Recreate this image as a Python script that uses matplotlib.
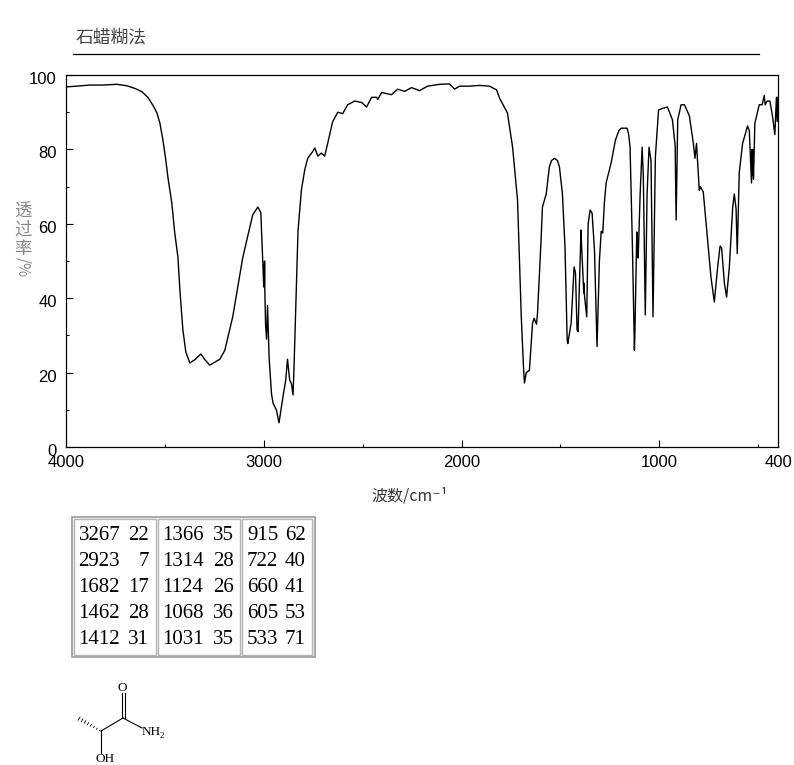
import matplotlib
matplotlib.use("Agg")
import matplotlib.pyplot as plt
from matplotlib.patches import Rectangle
from matplotlib.transforms import ScaledTranslation
import numpy as np

plt.rcParams['font.family'] = ['Noto Sans CJK SC', 'DejaVu Sans']

wavenumber = [4000, 3946, 3879, 3813, 3742, 3692, 3652, 3616, 3586, 3561, 3540, 3525, 3510, 3495, 3485, 3465,
              3450, 3434, 3424, 3409, 3394, 3374, 3348,
              3318, 3298, 3273, 3222, 3197, 3157, 3106, 3056, 3030, 3015, 3005, 3000, 2998, 2997, 2996, 2995,
              2991, 2986, 2981, 2978, 2973, 2961, 2953, 2936, 2923, 2903, 2889, 2880, 2869, 2860, 2852, 2847,
              2835, 2827, 2810, 2793, 2778, 2753, 2742, 2727, 2709, 2692, 2677, 2652, 2626, 2601, 2576, 2540,
              2505, 2480, 2455, 2429, 2424, 2404, 2354, 2323, 2288, 2253, 2212, 2172, 2111, 2061, 2035, 2010,
              1960, 1909, 1859, 1823, 1808, 1768, 1742, 1717, 1698, 1687, 1682, 1673, 1657, 1641, 1633, 1621,
              1616, 1598, 1591, 1572, 1556, 1545, 1530, 1515, 1505, 1490, 1477, 1466, 1463, 1446, 1431, 1424,
              1416, 1411, 1396, 1393, 1382, 1380, 1379, 1367, 1360, 1350, 1340, 1328, 1315, 1303, 1294, 1286,
              1278, 1269, 1244, 1222, 1205, 1193, 1163, 1155, 1148, 1136, 1126, 1123, 1114, 1112, 1107, 1097,
              1087, 1081, 1071, 1062, 1052, 1042, 1032, 1020, 1004, 985, 959, 934, 920, 915, 907, 890, 873,
              848, 828, 820, 812, 798, 793, 778, 758, 739, 722, 705, 693, 685, 671, 660, 646, 629, 621, 612,
              606, 596, 579, 554, 545, 534, 532, 529, 527, 524, 517, 495, 480, 470, 465, 455, 441, 428, 416,
              408, 404, 400]
transmittance = [96.8, 97, 97.3, 97.3, 97.5, 97.1, 96.4, 95.5, 94, 91.9, 89.8, 87, 82.5, 77, 72.6, 65.6,
                 57.5, 51, 42, 31.5, 25.5, 22.6, 23.5,
                 25, 23.5, 22, 23.6, 26, 35, 51, 62.4, 64.5, 63, 50, 43, 49, 44, 50, 43,
                 33, 29, 38, 33, 24, 14.3, 11.8, 9.9, 6.5, 13.5, 18, 23.6, 18, 17, 14, 21.6,
                 44, 58, 69, 74.5, 77.6, 79.4, 80.4, 78.2, 79, 78.2, 81.6, 87.4, 90, 89.6, 92, 93,
                 92.6, 91.4, 94, 94, 93.4, 95.3, 94.7, 96.2, 95.6, 96.6, 95.8, 97, 97.5, 97.6, 96.2, 97,
                 97, 97.2, 97, 96, 93.8, 89.8, 80.6, 66.4, 35, 21.6, 17.2, 20, 20.6, 33.3, 34.6, 33,
                 35.9, 55.6, 64.5, 68, 75.3, 77, 77.6, 77, 75.3, 68, 53.8, 28.8, 27.8, 33.3, 48.4, 46.8,
                 31.5, 31, 58.3, 54, 41.4, 44, 41, 35, 60, 63.7, 62.9, 53, 27, 50, 58, 57.5,
                 65.6, 71, 76.3, 82.5, 85, 85.7, 85.7, 84, 80.6, 53.8, 26, 32, 57.8, 52, 50.8, 68,
                 80.6, 73, 35.5, 68, 80.6, 77, 35, 78, 90.6, 91, 91.4, 88, 81, 61, 88, 92, 92,
                 89, 81.6, 77.6, 81.6, 69, 70, 68.6, 57, 45.7, 39, 48.4, 54, 53.5, 44, 40.3, 48.4, 64.5, 68, 64,
                 52, 73.7, 81.6, 86.3, 85, 71, 80, 73, 80, 72, 87, 92, 92, 94.5, 92, 93, 93, 89, 84,
                 94, 87.5, 94]

x_ticks = [4000, 3000, 2000, 1000, 400]
x_minor = [3500, 2500, 1500, 500]
y_ticks = [0, 20, 40, 60, 80, 100]
y_minor = [10, 30, 50, 70, 90]

peak_wn = [[3267, 2923, 1682, 1462, 1412], [1366, 1314, 1124, 1068, 1031], [915, 722, 660, 605, 533]]
peak_t = [[22, 7, 17, 28, 31], [35, 28, 26, 36, 35], [62, 40, 41, 53, 71]]

W, H = 794, 765
fig = plt.figure(figsize=(W / 100, H / 100), dpi=100)

# overlay in pixels for the page stuff (title rule, table, molecule)
page = fig.add_axes([0, 0, 1, 1])
page.set_xlim(0, W)
page.set_ylim(H, 0)
page.axis('off')

ax = fig.add_axes([66 / W, 1 - 447 / H, 712 / W, 372 / H])
ax.patch.set_alpha(0)
ax.plot(wavenumber, transmittance, color='black', lw=1.0)
ax.set_xlim(4000, 400)
ax.set_ylim(0, 100)
ax.set_xticks(x_ticks)
ax.set_xticks(x_minor, minor=True)
ax.set_yticks(y_ticks)
ax.set_yticks(y_minor, minor=True)
ax.tick_params(axis='both', which='major', direction='in', length=5, width=0.8, labelsize=12)
ax.tick_params(axis='both', which='minor', direction='in', length=2.5, width=0.8)
ax.tick_params(axis='x', pad=5.5)
ax.tick_params(axis='y', pad=6.5)
for lab in ax.get_xticklabels() + ax.get_yticklabels():
    lab.set_family('Liberation Sans')
# y labels sit a little below their ticks
nudge = ScaledTranslation(0, -3 / 100, fig.dpi_scale_trans)
for lab in ax.get_yticklabels():
    lab.set_transform(lab.get_transform() + nudge)
for s in ax.spines.values():
    s.set_linewidth(0.9)

# title and rule
page.text(76, 37, '石蜡糊法', fontsize=12.8, color='#444444', va='center', ha='left')
page.plot([73, 759], [54, 54], color='black', lw=0.9)

# axis labels
page.text(410, 496, '波数/cm⁻¹', fontsize=11.5, color='#333333', ha='center', va='center')
page.text(23, 230, '透\n过\n率', fontsize=12.5, color='#888888', ha='center', va='center', linespacing=1.05)
page.text(23, 267, '/%', fontsize=11, color='#888888', ha='center', va='center', rotation=270)

# peak table
page.add_patch(Rectangle((71.5, 516.5), 243, 140, fc='#f4f4f4', ec='#a8a8a8', lw=1.4))
col_x = [(73.5, 155.5), (157.5, 240), (242, 312)]
for (x0, x1), wns, ts in zip(col_x, peak_wn, peak_t):
    page.add_patch(Rectangle((x0, 518.5), x1 - x0, 136, fc='white', ec='#b4b4b4', lw=1.0))
    for r, (w, t) in enumerate(zip(wns, ts)):
        yy = 536 + r * 26
        page.text(x0 + 5, yy, str(w), family='Liberation Serif', fontsize=15, color='black', ha='left', va='center')
        page.text(x1 - 6.5, yy, str(t), family='Liberation Serif', fontsize=15, color='black', ha='right', va='center')

# molecule, hashed methyl bond first
c_me, c_star, c_co = np.array([78.0, 718.0]), np.array([101.0, 731.0]), np.array([123.0, 718.0])
for f in np.linspace(0.05, 0.95, 8):
    p = c_star + (c_me - c_star) * f
    half = 0.3 + 1.6 * f
    page.plot([p[0] - 0.5 * half, p[0] + 0.5 * half], [p[1] + 0.87 * half, p[1] - 0.87 * half], color='black', lw=0.6)
page.plot([101, 123], [731, 718], color='black', lw=0.8)
page.plot([101, 101], [731, 753], color='black', lw=0.8)
page.plot([121.5, 121.5], [693, 717], color='black', lw=0.8)
page.plot([124.5, 124.5], [693, 718], color='black', lw=0.8)
page.plot([123, 142], [718, 728], color='black', lw=0.8)
mol = dict(family='Liberation Serif', fontsize=9.5, color='black', va='center')
page.text(122.5, 688, 'O', ha='center', **mol)
page.text(142, 732, 'NH', ha='left', **mol)
page.text(160, 736, '2', ha='left', family='Liberation Serif', fontsize=6.5, color='black', va='center')
page.text(96, 759.5, 'OH', ha='left', **mol)

fig.savefig('out.png', dpi=100)
